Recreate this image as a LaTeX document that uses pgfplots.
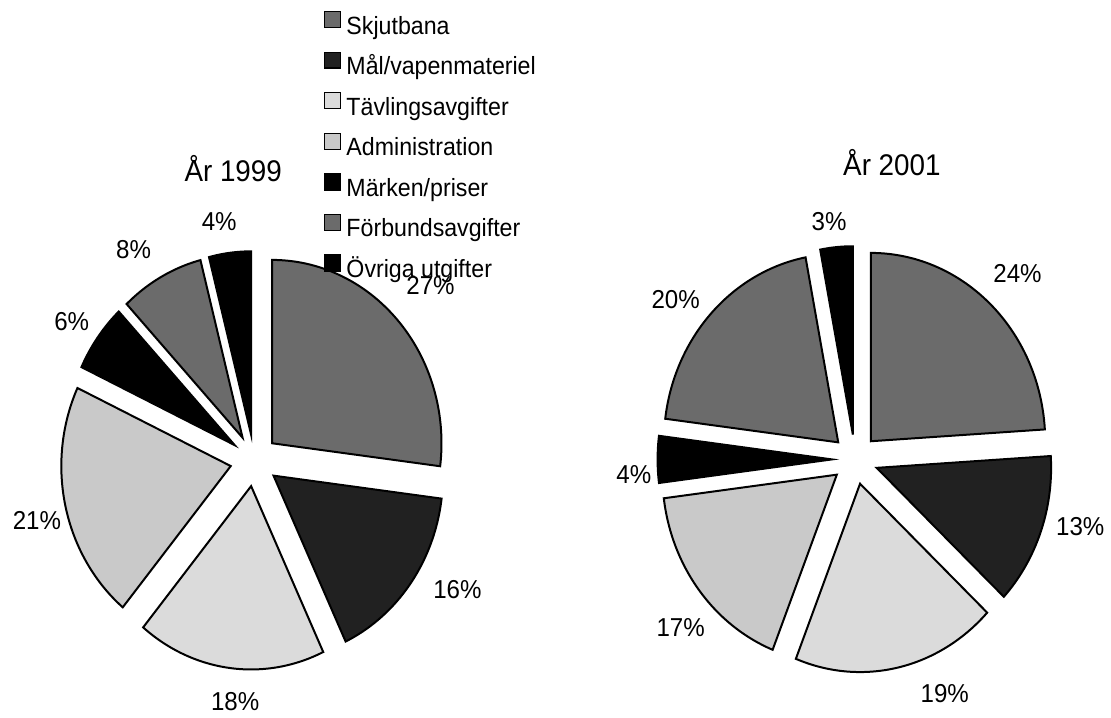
\documentclass[border=0pt]{standalone}
\usepackage{pgfplots}
\pgfplotsset{compat=1.18}
\usepackage{pgfplotstable}
\usepackage{fontspec}
\setmainfont{Liberation Sans}[FakeStretch=0.93]

% percentages read from the slice labels, clockwise from 12 o'clock
\pgfplotstableread{
cat pct
0 27
1 16
2 18
3 21
4 6
5 8
6 4
}\pieA
\pgfplotstableread{
cat pct
0 24
1 13
2 19
3 17
4 4
5 20
6 3
}\pieB

\pgfplotsset{
  s0/.style={fill=black!58},
  s1/.style={fill=black!87},
  s2/.style={fill=black!14},
  s3/.style={fill=black!21},
  s4/.style={fill=black},
  s5/.style={fill=black!58},
  s6/.style={fill=black},
}

% #1 table, #2 cx, #3 cy, #4 rx, #5 ry, #6 explode distance, #7 extra options
\newcommand\drawpie[7]{%
  \gdef\cum{90}%
  \pgfplotsforeachungrouped \i in {0,...,6}{%
    \pgfplotstablegetelem{\i}{pct}\of{#1}%
    \pgfmathsetmacro\ea{\cum-3.6*\pgfplotsretval}%
    \pgfmathsetmacro\ma{(\cum+\ea)/2}%
    \pgfmathsetmacro\ox{#2+0.925*#6*cos(\ma)}%
    \pgfmathsetmacro\oy{#3-#6*sin(\ma)}%
    \edef\doplot{\noexpand\addplot[s\i,draw=black,line width=1pt,domain=\ea:\cum,samples=61,#7] ({\ox+#4*cos(x)},{\oy-#5*sin(x)}) -- (axis cs:\ox,\oy) -- cycle;}%
    \doplot
    \global\let\cum\ea
  }%
}

\newcommand\pct{\fontsize{13}{15}\selectfont}
\newcommand\ttl{\fontsize{15}{18}\selectfont}
\newcommand\lgd{\fontsize{12.5}{15}\selectfont}

\begin{document}
\begin{tikzpicture}
\begin{axis}[
  width=555.5pt, height=357.5pt, scale only axis,
  xmin=0, xmax=1111, ymin=0, ymax=715, y dir=reverse,
  hide axis, clip=false,
  legend cell align=left,
  legend image code/.code={\draw[#1,draw=black,line width=0.7pt] (0pt,0.3pt) rectangle (8pt,8.3pt); \path (10.5pt,0pt);},
  legend style={at={(axis cs:325,11)}, anchor=north west, draw=none, fill=none,
    inner sep=0pt, outer sep=0pt, row sep=5.7pt,
    nodes={inner sep=0pt, text height=9pt, text depth=3pt}},
]
\path (axis cs:0,0) rectangle (axis cs:1111,715);
\drawpie{\pieA}{255}{462}{170}{184}{26}{}
\drawpie{\pieB}{858}{461}{175}{189}{25}{forget plot}
\legend{{\lgd Skjutbana},{\lgd Mål/vapenmateriel},{\lgd Tävlingsavgifter},{\lgd Administration},{\lgd Märken/priser},{\lgd Förbundsavgifter},{\lgd Övriga utgifter}}

\node[font=\ttl, anchor=base] at (axis cs:234,182) {År 1999};
\node[font=\ttl, anchor=base] at (axis cs:895,176) {År 2001};

\node[font=\pct] at (axis cs:432,287) {27\%};
\node[font=\pct] at (axis cs:459,592) {16\%};
\node[font=\pct] at (axis cs:236,704) {18\%};
\node[font=\pct] at (axis cs:37,522) {21\%};
\node[font=\pct] at (axis cs:72,323) {6\%};
\node[font=\pct] at (axis cs:134,250) {8\%};
\node[font=\pct] at (axis cs:220,222) {4\%};

\node[font=\pct] at (axis cs:1021,274) {24\%};
\node[font=\pct] at (axis cs:1084,528) {13\%};
\node[font=\pct] at (axis cs:948,696) {19\%};
\node[font=\pct] at (axis cs:683,630) {17\%};
\node[font=\pct] at (axis cs:636,476) {4\%};
\node[font=\pct] at (axis cs:678,301) {20\%};
\node[font=\pct] at (axis cs:832,222) {3\%};
\end{axis}
\end{tikzpicture}
\end{document}
